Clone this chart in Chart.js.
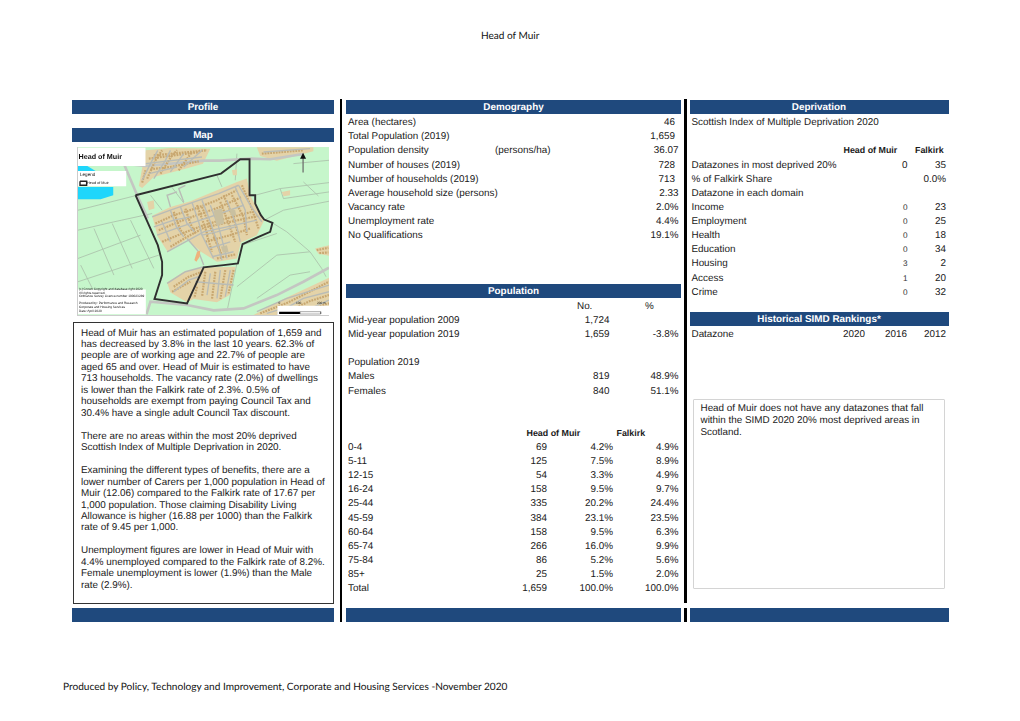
<!DOCTYPE html>
<html lang="en">
<head>
    <meta charset="UTF-8">
    <title>Head of Muir</title>
    <script src="https://cdn.jsdelivr.net/npm/chart.js"></script>
    <style>
        html, body { margin: 0; padding: 0; background: #fff; }
        #page { position: relative; width: 1020px; height: 721px; overflow: hidden; font-family: "Liberation Sans", Arial, sans-serif; font-size: 9.9px; color: #1a1a1a; text-rendering: geometricPrecision; }
        #page > div, #page > span { position: absolute; white-space: nowrap; }
        .bar { background: #1f497d; color: #fff; font-weight: bold; text-align: center; height: 14px; line-height: 16.5px; }
        .rule { background: #000; }
        .box { box-sizing: border-box; background: #fff; }
        .cal { font-family: Lato, "Open Sans", sans-serif; color: #111; }
        #map { position: absolute; left: 78px; top: 147px; filter: blur(0.6px); }
    </style>
</head>
<body>
<div id="page"></div>
<script>
    // table contents
    const demographyLabels = ["Area (hectares)", "Total Population (2019)", "Population density", "Number of houses (2019)", "Number of households (2019)", "Average household size (persons)", "Vacancy rate", "Unemployment rate", "No Qualifications"];
    const demographyValues = ["46", "1,659", "36.07", "728", "713", "2.33", "2.0%", "4.4%", "19.1%"];

    const ageBands = ["0-4", "5-11", "12-15", "16-24", "25-44", "45-59", "60-64", "65-74", "75-84", "85+", "Total"];
    const ageCounts = ["69", "125", "54", "158", "335", "384", "158", "266", "86", "25", "1,659"];
    const agePercent = ["4.2%", "7.5%", "3.3%", "9.5%", "20.2%", "23.1%", "9.5%", "16.0%", "5.2%", "1.5%", "100.0%"];
    const ageFalkirk = ["4.9%", "8.9%", "4.9%", "9.7%", "24.4%", "23.5%", "6.3%", "9.9%", "5.6%", "2.0%", "100.0%"];

    const domains = ["Income", "Employment", "Health", "Education", "Housing", "Access", "Crime"];
    const domainArea = ["0", "0", "0", "0", "3", "1", "0"];
    const domainFalkirk = ["23", "25", "18", "34", "2", "20", "32"];

    const summaryLines = [
        "Head of Muir has an estimated population of 1,659 and", "has decreased by 3.8% in the last 10 years. 62.3% of",
        "people are of working age and 22.7% of people are", "aged 65 and over. Head of Muir is estimated to have",
        "713 households. The vacancy rate (2.0%) of dwellings", "is lower than the Falkirk rate of 2.3%. 0.5% of",
        "households are exempt from paying Council Tax and", "30.4% have a single adult Council Tax discount.", "",
        "There are no areas within the most 20% deprived", "Scottish Index of Multiple Deprivation in 2020.", "",
        "Examining the different types of benefits, there are a", "lower number of Carers per 1,000 population in Head of",
        "Muir (12.06) compared to the Falkirk rate of 17.67 per", "1,000 population. Those claiming Disability Living",
        "Allowance is higher (16.88 per 1000) than the Falkirk", "rate of 9.45 per 1,000.", "",
        "Unemployment figures are lower in Head of Muir with", "4.4% unemployed compared to the Falkirk rate of 8.2%.",
        "Female unemployment is lower (1.9%) than the Male", "rate (2.9%)."
    ];
    const simdLines = ["Head of Muir does not have any datazones that fall", "within the SIMD 2020 20% most deprived areas in", "Scotland."];

    // map features (map units)
    const estates = [
        [[205,272],[225,165],[300,158],[420,160],[398,205],[340,222],[250,245],[215,278]],
        [[560,156],[730,156],[730,168],[620,196],[570,182]],
        [[245,362],[300,335],[360,318],[440,285],[500,260],[530,250],[540,300],[555,330],[582,375],[560,420],[512,442],[500,490],[440,500],[392,470],[350,432],[292,470],[262,425]],
        [[290,562],[340,530],[400,517],[496,515],[478,600],[440,622],[370,612],[350,622],[300,592]],
        [[550,660],[640,612],[777,548],[777,660]],
        [[735,460],[777,450],[777,482],[745,476]],
        [[635,290],[660,285],[660,300],[640,303]],
        [[230,320],[250,315],[252,340],[235,345]],
        [[485,225],[500,222],[500,240],[488,240]]
    ];
    const parkSpots = [
        [[430,345],[455,340],[462,385],[438,392]],
        [[478,340],[495,345],[498,362],[482,360]],
        [[452,455],[470,450],[475,470],[458,473]]
    ];
    const playArea = [[372,495],[380,470],[390,466],[388,485],[378,500]];
    const streets = [
        [[245,365],[300,345],[365,322],[445,295],[505,270]],
        [[300,345],[318,395],[340,425]],
        [[330,335],[350,385],[372,410]],
        [[365,322],[385,380],[395,420],[430,490]],
        [[395,315],[420,380],[440,440],[455,495]],
        [[420,330],[445,395],[470,490]],
        [[470,315],[500,395],[510,440]],
        [[495,275],[525,345],[530,410]],
        [[260,420],[330,395],[390,375],[450,355],[520,330]],
        [[275,380],[300,440]],
        [[250,395],[310,375],[360,365]],
        [[290,470],[345,440],[400,410],[470,395],[560,375]],
        [[505,270],[540,330],[575,380]],
        [[395,420],[440,410],[495,395]],
        [[415,460],[480,440]],
        [[425,485],[490,470]],
        [[350,430],[385,470],[400,510]],
        [[290,565],[345,530],[400,515]],
        [[310,590],[355,555],[385,545]],
        [[420,535],[410,600]],
        [[450,525],[440,610]],
        [[480,525],[465,605]],
        [[375,560],[490,570]],
        [[215,255],[240,205],[262,165]],
        [[250,250],[285,195],[300,165]],
        [[300,230],[340,175]],
        [[225,205],[395,185]],
        [[235,235],[320,215]],
        [[340,215],[395,165]],
        [[300,335],[290,300],[320,290]],
        [[340,320],[325,280],[345,270]],
        [[580,170],[720,160]],
        [[560,650],[650,610],[777,570]],
        [[620,655],[700,610],[777,590]],
        [[590,655],[640,640]],
        [[700,650],[777,615]]
    ];
    const houseRows = [
        [[255,385],[310,360],[375,340],[440,315],[500,285]],
        [[265,405],[325,380],[385,358],[450,335],[515,305]],
        [[275,440],[335,415],[395,392],[460,372],[545,350]],
        [[300,455],[345,428],[400,398],[470,382],[565,362]],
        [[310,350],[330,405],[345,420]],
        [[345,340],[360,385],[375,415]],
        [[380,330],[400,385],[412,420]],
        [[395,335],[415,385],[440,440],[455,490]],
        [[410,420],[425,470]],
        [[450,320],[475,385],[495,440]],
        [[430,425],[455,480]],
        [[460,300],[490,370],[505,420]],
        [[485,300],[520,365],[530,420]],
        [[515,270],[545,340],[565,400]],
        [[405,440],[480,420],[540,400]],
        [[440,490],[495,478]],
        [[310,575],[355,545],[395,530]],
        [[305,590],[360,560]],
        [[405,530],[395,605]],
        [[435,530],[425,612]],
        [[465,525],[450,612]],
        [[490,525],[475,595]],
        [[380,575],[372,608]],
        [[230,250],[255,195],[275,165]],
        [[270,235],[305,180],[320,165]],
        [[325,225],[365,170]],
        [[235,190],[390,170]],
        [[240,222],[300,215],[385,198]],
        [[250,180],[410,165]],
        [[215,262],[225,225]],
        [[575,175],[700,165]],
        [[570,655],[655,622],[777,560]],
        [[640,655],[720,618],[777,600]],
        [[660,658],[777,625]],
        [[740,465],[775,458]],
        [[748,474],[775,472]]
    ];
    const fieldLines = [
        [[22,405],[130,380],[245,355]],
        [[22,345],[200,300]],
        [[70,400],[130,540]],
        [[125,385],[185,520]],
        [[180,375],[250,520]],
        [[22,490],[210,420]],
        [[30,510],[95,640]],
        [[22,560],[265,480]],
        [[555,300],[630,280],[777,262]],
        [[630,280],[640,310],[777,290]],
        [[582,375],[640,345],[777,318]],
        [[700,260],[745,302]],
        [[610,385],[650,410],[720,470],[755,520],[768,545]],
        [[515,450],[620,415]],
        [[500,575],[620,480],[720,470]],
        [[560,610],[660,540],[720,530]],
        [[500,505],[472,640]],
        [[670,205],[777,195]],
        [[500,175],[495,255]],
        [[240,300],[275,345]],
        [[300,270],[345,330]],
        [[440,240],[455,275]]
    ];
    const majorRoads = [
        [[160,205],[200,300],[232,370]],
        [[160,205],[225,212],[400,196],[450,196],[540,190],[600,192],[700,176]],
        [[228,658],[240,620],[350,630],[430,646],[520,640],[620,600],[700,560],[777,518]]
    ];
    const waterArea = [[22,275],[128,275],[128,300],[90,312],[22,312]];
    const waterTop = [[22,212],[50,212],[75,227],[22,227]];
    const boundary = [[195,300],[452,235],[510,192],[538,192],[538,300],[555,300],[555,325],[572,360],[582,373],[607,383],[600,410],[565,425],[517,447],[503,505],[460,510],[400,517],[350,625],[252,612],[275,540],[275,500],[262,450],[195,300]];
    const northShaft = [[699,232],[699,188]];
    const northHead = [[690,190],[699,172],[708,190]];
    const titleBox = [[22,157],[225,157],[225,212],[22,212]];
    const legendBox = [[22,227],[167,227],[167,273],[22,273]];
    const legendSwatch = [[28,258],[48,258],[48,270],[28,270],[28,258]];
    const creditBox = [[22,583],[226,583],[226,658],[22,658]];
    const scaleBox = [[622,632],[777,632],[777,660],[622,660]];
    const scaleBlack = [[627,650],[690,650],[690,657],[627,657]];
    const scaleWhite = [[690,650],[752,650],[752,657],[690,657],[690,650]];
    const mapExtent = [[22,155],[777,155],[777,660],[22,660]];

    const page = document.getElementById("page");
    const rowY = n => 107 + 14.12 * n;

    function put(text, x, n, align, extra) {
        const el = document.createElement("span");
        el.textContent = text;
        el.style.top = (rowY(n) - 4.9) + "px";
        el.style.lineHeight = "13px";
        if (align === "r") el.style.right = (1020 - x) + "px";
        else el.style.left = x + "px";
        if (extra) el.style.cssText += extra;
        page.appendChild(el);
        return el;
    }

    function block(cls, x, y, w, h, text, css) {
        const el = document.createElement("div");
        el.className = cls;
        el.style.left = x + "px";
        el.style.top = y + "px";
        el.style.width = w + "px";
        el.style.height = h + "px";
        if (text) el.textContent = text;
        if (css) el.style.cssText += css;
        page.appendChild(el);
    }

    function textLines(lines, x, y, lineHeight) {
        lines.forEach((line, i) => {
            if (!line) return;
            const el = document.createElement("span");
            el.textContent = line;
            el.style.left = x + "px";
            el.style.top = (y + i * lineHeight) + "px";
            el.style.lineHeight = "12px";
            page.appendChild(el);
        });
    }

    const boldSmall = "font-size:8.9px;font-weight:bold;";
    const smallNum = "font-size:8.2px;color:#333;";

    // page header and footer
    put("Head of Muir", 481, 0, "l", "top:29.5px;font-size:10.05px;").className = "cal";
    put("Produced by Policy, Technology and Improvement, Corporate and Housing Services -November 2020", 63, 0, "l", "top:681px;font-size:10.1px;").className = "cal";

    // header bars and dividers
    block("bar", 72, 100, 262, 14, "Profile");
    block("bar", 72, 128, 262, 14, "Map");
    block("bar", 72, 607.5, 262, 14.5);
    block("bar", 346, 100, 335, 14, "Demography");
    block("bar", 346, 283.5, 335, 14, "Population");
    block("bar", 346, 607.5, 335, 14.5);
    block("bar", 689.5, 100, 259, 14, "Deprivation");
    block("bar", 689.5, 311.5, 259, 14, "Historical SIMD Rankings*");
    block("bar", 689.5, 607.5, 259, 14.5);
    block("rule", 339.5, 99, 2.5, 523);
    block("rule", 684, 99, 3, 504);
    block("rule", 684, 607.5, 3, 14.5);

    // demography
    demographyLabels.forEach((label, i) => {
        put(label, 348, i + 1);
        put(demographyValues[i], /[.%]/.test(demographyValues[i]) ? 678.5 : 675, i + 1, "r");
    });
    put("(persons/ha)", 495, 3);

    // population
    put("No.", 577, 14);
    put("%", 645, 14);
    put("Mid-year population 2009", 348, 15);
    put("1,724", 609.5, 15, "r");
    put("Mid-year population 2019", 348, 16);
    put("1,659", 609.5, 16, "r");
    put("-3.8%", 678.5, 16, "r");
    put("Population 2019", 348, 18);
    put("Males", 348, 19);
    put("819", 609.5, 19, "r");
    put("48.9%", 678.5, 19, "r");
    put("Females", 348, 20);
    put("840", 609.5, 20, "r");
    put("51.1%", 678.5, 20, "r");
    put("Head of Muir", 526.5, 23, "l", boldSmall);
    put("Falkirk", 616.5, 23, "l", boldSmall);
    ageBands.forEach((band, i) => {
        put(band, 348, i + 24);
        put(ageCounts[i], 547, i + 24, "r");
        put(agePercent[i], 613, i + 24, "r");
        put(ageFalkirk[i], 678.5, i + 24, "r");
    });

    // deprivation
    put("Scottish Index of Multiple Deprivation 2020", 691.5, 1);
    put("Head of Muir", 843.5, 3, "l", boldSmall);
    put("Falkirk", 915, 3, "l", boldSmall);
    put("Datazones in most deprived 20%", 691.5, 4);
    put("0", 907.5, 4, "r");
    put("35", 946, 4, "r");
    put("% of Falkirk Share", 691.5, 5);
    put("0.0%", 946, 5, "r");
    put("Datazone in each domain", 691.5, 6);
    domains.forEach((domain, i) => {
        put(domain, 691.5, i + 7);
        put(domainArea[i], 907.5, i + 7, "r", smallNum);
        put(domainFalkirk[i], 946, i + 7, "r");
    });
    put("Datazone", 691.5, 16);
    put("2020", 865, 16, "r");
    put("2016", 907, 16, "r");
    put("2012", 946, 16, "r");

    // text boxes
    block("box", 72.5, 322, 261, 282, "", "border:1.3px solid #333;");
    textLines(summaryLines, 81, 327.5, 11.47);
    block("box", 692.5, 399, 252, 189.5, "", "border:1.5px solid #d4d4d4;border-radius:1px;");
    textLines(simdLines, 700.5, 403.2, 11.7);

    // map frame and its small labels
    block("box", 77, 146.5, 252, 169, "", "border:1px solid #ccc;");
    const canvas = document.createElement("canvas");
    canvas.id = "map";
    canvas.width = 251;
    canvas.height = 168;
    canvas.style.width = "251px";
    canvas.style.height = "168px";
    page.appendChild(canvas);

    const soft = "filter:blur(0.35px);color:#111;";
    put("Head of Muir", 78.5, 0, "l", "top:150px;font-size:7.2px;font-weight:bold;" + soft);
    put("Legend", 80, 0, "l", "top:168px;font-size:4.6px;" + soft);
    put("Head of Muir", 87, 0, "l", "top:176.5px;font-size:3.8px;" + soft);
    ["(c) Crown Copyright and database right 2020", "All rights reserved.", "Ordnance Survey Licence number 100023289", "", "Produced by: Performance and Research", "Corporate and Housing Services", "Date: April 2020"].forEach((line, i) => {
        if (line) put(line, 79, 0, "l", "top:" + (287 + i * 3.6) + "px;line-height:4px;font-size:3.2px;" + soft);
    });
    put("0", 278.5, 0, "l", "top:301px;line-height:5px;font-size:3.2px;" + soft);
    put("100", 296, 0, "l", "top:301px;line-height:5px;font-size:3.2px;" + soft);
    put("200 m", 317, 0, "l", "top:301px;line-height:5px;font-size:3.2px;" + soft);

    // chart datasets, painted in list order
    function shape(points, colour, border) {
        return { data: points.map(p => ({ x: p[0], y: p[1] })), showLine: true, fill: "shape", backgroundColor: colour, borderColor: border || colour, borderWidth: border ? 0.7 : 0, pointRadius: 0, tension: 0 };
    }
    function line(points, colour, width, dash) {
        return { data: points.map(p => ({ x: p[0], y: p[1] })), showLine: true, fill: false, borderColor: colour, borderWidth: width, borderDash: dash || [], pointRadius: 0, tension: 0 };
    }

    const layers = [
        shape(mapExtent, "#c6f6cb"),
        shape(waterArea, "#1fd6fb"),
        shape(waterTop, "#1fd6fb"),
        ...fieldLines.map(p => line(p, "#adc4ad", 0.9)),
        ...estates.map(p => shape(p, "#e4d3a8")),
        ...majorRoads.map(p => line(p, "#c4c6c2", 2.6)),
        ...houseRows.map(p => line(p, "#c8a770", 2.2, [1.8, 1])),
        ...streets.map(p => line(p, "#b9bcb6", 1.4)),
        ...parkSpots.map(p => shape(p, "#c9c0a0")),
        shape(playArea, "#eeb27c"),
        line(boundary, "#2f2f2f", 1.9),
        line(northShaft, "#666", 1.2),
        shape(northHead, "#111"),
        shape(titleBox, "#fff"),
        shape(legendBox, "#fff"),
        line(legendSwatch, "#222", 1.4),
        shape(creditBox, "#fff"),
        shape(scaleBox, "#fff"),
        shape(scaleBlack, "#000"),
        line(scaleWhite, "#555", 0.5)
    ];

    new Chart(canvas, {
        type: "scatter",
        data: { datasets: layers.reverse() },
        options: {
            responsive: false,
            animation: false,
            events: [],
            layout: { padding: 0 },
            plugins: { legend: { display: false }, tooltip: { enabled: false } },
            scales: {
                x: { type: "linear", display: false, min: 22, max: 777 },
                y: { type: "linear", display: false, min: 155, max: 660, reverse: true }
            }
        }
    });
</script>
</body>
</html>
